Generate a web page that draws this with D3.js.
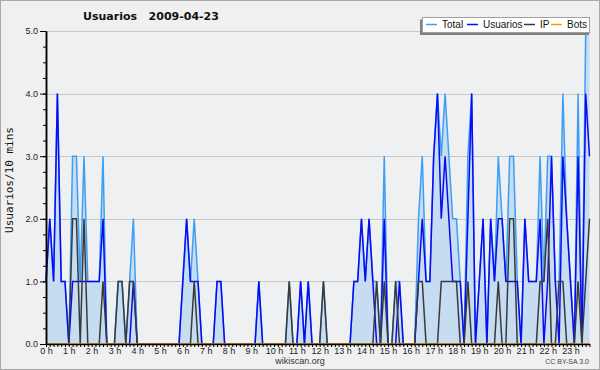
<!DOCTYPE html>
<html><head><meta charset="utf-8">
<script src="https://cdn.jsdelivr.net/npm/d3@7"></script>
<style>html,body{margin:0;padding:0;background:#f0f0f0;}svg{display:block;}</style>
</head><body><svg id="c" width="600" height="370"></svg>
<script>
const title = "Usuarios   2009-04-23";
const yLabel = "Usuarios/10 mins";
const seriesNames = ["Total", "Usuarios", "IP", "Bots"];
const seriesColors = ["#3d9ff2", "#0a0af5", "#3a3a3a", "#ff9900"];
const hourLabels = ["0 h","1 h","2 h","3 h","4 h","5 h","6 h","7 h","8 h","9 h","10 h","11 h","12 h","13 h","14 h","15 h","16 h","17 h","18 h","19 h","20 h","21 h","22 h","23 h"];
const yTickValues = [0, 1, 2, 3, 4, 5];
// 144 ten-minute slots
const total = [
 1,2,1,4,1,1, 0,3,3,1,3,1, 1,1,1,3,0,0, 0,1,1,0,1,2,
 0,0,0,0,0,0, 0,0,0,0,0,0, 1,2,1,2,1,0, 0,0,0,1,1,0,
 0,0,0,0,0,0, 0,0,1,0,0,0, 0,0,0,0,1,0, 0,1,0,1,0,0,
 0,1,0,0,0,0, 0,0,0,1,1,2, 1,2,1,1,0,3, 0,0,1,1,0,0,
 0,0,2,3,1,1, 3,4,3,4,3,2, 2,1,0,3,4,0, 1,2,0,2,1,3,
 2,1,3,3,1,0, 2,1,1,1,3,1, 3,3,1,1,4,2, 1,0,4,0,5,5];
const usuarios = [
 1,2,1,4,1,1, 0,1,1,1,1,1, 1,1,1,2,0,0, 0,0,0,0,0,1,
 0,0,0,0,0,0, 0,0,0,0,0,0, 1,2,1,1,1,0, 0,0,0,1,1,0,
 0,0,0,0,0,0, 0,0,1,0,0,0, 0,0,0,0,0,0, 0,1,0,1,0,0,
 0,0,0,0,0,0, 0,0,0,1,1,2, 1,2,1,0,0,2, 0,0,0,1,0,0,
 0,0,1,2,1,1, 3,4,2,3,2,1, 1,1,0,2,4,0, 1,2,0,2,1,2,
 2,1,1,1,1,0, 2,1,1,1,2,0, 1,3,1,0,3,2, 1,0,3,0,4,3];
const ip = [
 0,0,0,0,0,0, 0,2,2,0,2,0, 0,0,0,1,0,0, 0,1,1,0,1,1,
 0,0,0,0,0,0, 0,0,0,0,0,0, 0,0,0,1,0,0, 0,0,0,0,0,0,
 0,0,0,0,0,0, 0,0,0,0,0,0, 0,0,0,0,1,0, 0,0,0,0,0,0,
 0,1,0,0,0,0, 0,0,0,0,0,0, 0,0,0,1,0,1, 0,0,1,0,0,0,
 0,0,1,1,0,0, 0,0,1,1,1,1, 1,0,0,1,0,0, 0,0,0,0,0,1,
 0,0,2,2,0,0, 0,0,0,0,1,1, 2,0,0,1,1,0, 0,0,1,0,1,2];
const bots = [
 0,0,0,0,0,0, 0,0,0,0,0,0, 0,0,0,0,0,0, 0,0,0,0,0,0,
 0,0,0,0,0,0, 0,0,0,0,0,0, 0,0,0,0,0,0, 0,0,0,0,0,0,
 0,0,0,0,0,0, 0,0,0,0,0,0, 0,0,0,0,0,0, 0,0,0,0,0,0,
 0,0,0,0,0,0, 0,0,0,0,0,0, 0,0,0,0,0,0, 0,0,0,0,0,0,
 0,0,0,0,0,0, 0,0,0,0,0,0, 0,0,0,0,0,0, 0,0,0,0,0,0,
 0,0,0,0,0,0, 0,0,0,0,0,0, 0,0,0,0,0,0, 0,0,0,0,0,0];

const svg = d3.select("#c");
const W = 600, H = 370;
const x = d3.scaleLinear().domain([0, 143]).range([46, 589.5]);
const y = d3.scaleLinear().domain([0, 5]).range([344, 31]);

svg.append("rect").attr("x", 0.5).attr("y", 0.5).attr("width", W - 1).attr("height", H - 1)
  .attr("fill", "#f0f0f0").attr("stroke", "#a8a8a8");
svg.append("rect").attr("x", x(0)).attr("y", y(5)).attr("width", 590 - x(0)).attr("height", y(0) - y(5))
  .attr("fill", "#eef0f2");

// grid
svg.append("g").selectAll("line").data(yTickValues.filter(v => v > 0)).join("line")
  .attr("x1", x(0)).attr("x2", 590).attr("y1", d => Math.round(y(d)) + 0.5).attr("y2", d => Math.round(y(d)) + 0.5)
  .attr("stroke", "#c8c8c8").attr("stroke-width", 1);

const idx = d3.range(total.length);
const area = d3.area().x(i => x(i)).y0(y(0)).y1(i => y(total[i]));
svg.append("path").datum(idx).attr("d", area).attr("fill", "#c6dcf0");

const mk = arr => d3.line().x(i => x(i)).y(i => y(arr[i]));
const series = [total, usuarios, ip, bots];
series.forEach((s, k) => {
  svg.append("path").datum(idx).attr("d", mk(s)).attr("fill", "none")
    .attr("stroke", seriesColors[k]).attr("stroke-width", 1.5).attr("stroke-linejoin", "miter");
});

// y axis
const yMinor = d3.range(0, 5.01, 0.25);
const gy2 = svg.append("g").attr("transform", "translate(46,0)")
  .call(d3.axisLeft(y).tickValues(yMinor).tickSize(3).tickSizeOuter(0).tickFormat(""));
const gy = svg.append("g").attr("transform", "translate(46,0)")
  .call(d3.axisLeft(y).tickValues(yTickValues).tickSize(6).tickSizeOuter(0).tickPadding(2).tickFormat(d3.format(".1f")));
[gy, gy2].forEach(g => { g.select(".domain").attr("stroke", "#000").attr("stroke-width", 1.5); g.selectAll(".tick line").attr("stroke", "#000"); });
gy.selectAll("text").attr("font-family", "Liberation Sans, Arial, sans-serif").attr("font-size", 9).attr("fill", "#222");

// x axis
const gx = svg.append("g").attr("transform", "translate(0,344)")
  .call(d3.axisBottom(x).tickValues(idx).tickSize(3).tickSizeOuter(0).tickPadding(1)
    .tickFormat(i => i % 6 === 0 ? hourLabels[i / 6] : ""));
gx.select(".domain").attr("stroke", "#000").attr("stroke-width", 1.5).attr("d", "M46,0.5H590");
gx.selectAll(".tick line").attr("stroke", "#000");
gx.selectAll("text").attr("font-family", "Liberation Sans, Arial, sans-serif").attr("font-size", 9).attr("fill", "#222");

// title
svg.append("text").attr("x", 151).attr("y", 20).attr("text-anchor", "middle")
  .attr("font-family", "DejaVu Sans, sans-serif").attr("font-weight", "bold").attr("font-size", 11)
  .style("white-space", "pre").attr("fill", "#111").text(title);
// y label
svg.append("text").attr("transform", "translate(13,180) rotate(-90)").attr("text-anchor", "middle")
  .attr("font-family", "DejaVu Sans Mono, monospace").attr("font-size", 11).attr("fill", "#111").text(yLabel);
// footer
svg.append("text").attr("x", 300).attr("y", 364).attr("text-anchor", "middle")
  .attr("font-family", "Liberation Sans, Arial, sans-serif").attr("font-size", 9).attr("fill", "#333").text("wikiscan.org");
svg.append("text").attr("x", 589).attr("y", 364).attr("text-anchor", "end")
  .attr("font-family", "Liberation Sans, Arial, sans-serif").attr("font-size", 7).attr("fill", "#444").text("CC BY-SA 3.0");

// legend
const lg = svg.append("g");
lg.append("rect").attr("x", 420).attr("y", 19.5).attr("width", 169).attr("height", 15.5).attr("fill", "#808080");
lg.append("rect").attr("x", 422.5).attr("y", 17.5).attr("width", 167).attr("height", 15).attr("fill", "#fff").attr("stroke", "#a0a0a0");
const legX = [426, 467, 524, 551];
const txtX = [442, 483, 540, 567];
seriesNames.forEach((n, k) => {
  lg.append("line").attr("x1", legX[k]).attr("x2", legX[k] + 11).attr("y1", 24.5).attr("y2", 24.5)
    .attr("stroke", seriesColors[k]).attr("stroke-width", 1.5);
  lg.append("text").attr("x", txtX[k]).attr("y", 28).attr("font-family", "Liberation Sans, Arial, sans-serif")
    .attr("font-size", 10).attr("fill", "#111").text(n);
});
</script></body></html>
